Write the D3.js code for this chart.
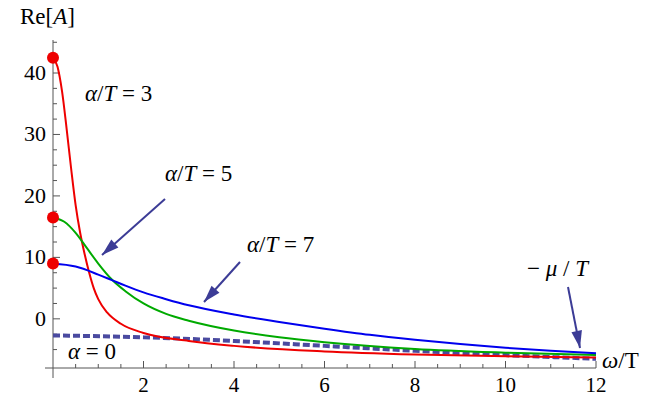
<!DOCTYPE html><html><head><meta charset="utf-8"><script src="https://cdn.jsdelivr.net/npm/d3@7"></script>
<style>body{margin:0;background:#fff}svg text{font-family:"Liberation Serif","DejaVu Serif",serif}</style></head><body><svg id="c" width="664" height="406"></svg>
<script>
const xTicks=[2,4,6,8,10,12];
const yTicks=[0,10,20,30,40];
const redX=[0,0.1,0.2,0.3,0.4,0.5,0.6,0.7,0.8,0.9,1,1.2,1.5,2,3,4,6,8,10,12];
const redY=[42.5,41,37,31,24.5,18.5,14,10.5,7.5,5,3.2,1,-0.8,-2.3,-3.6,-4.4,-5.3,-5.8,-6.1,-6.3];
const greenX=[0,0.25,0.5,0.75,1,1.3,1.6,2,2.5,3,4,5,6,8,10,12];
const greenY=[16.5,15.8,14,11.5,9,6.4,4.5,2.5,0.8,-0.3,-1.9,-3,-3.8,-4.9,-5.5,-5.9];
const blueX=[0,0.5,1,1.3,1.6,2,2.5,3,4,5,6,7,8,9,10,11,12];
const blueY=[9,8.5,7.2,6.3,5.4,4.3,3.2,2.2,0.7,-0.5,-1.6,-2.6,-3.4,-4.1,-4.7,-5.2,-5.6];
const zeroX=[0,2,4,6,8,10,12];
const zeroY=[-2.7,-3.0,-3.6,-4.4,-5.2,-5.9,-6.5];
const svg=d3.select("#c");
const F="Liberation Serif";
const x=d3.scaleLinear().domain([0,12]).range([53,596]);
const y=d3.scaleLinear().domain([-8,40]).range([368,73]);
const g=svg.append("g");
g.append("line").attr("x1",x(0)).attr("x2",x(0)).attr("y1",40).attr("y2",y(-8)+10).attr("stroke","#555");
g.append("line").attr("x1",x(0)-8).attr("x2",x(12)).attr("y1",y(-8)).attr("y2",y(-8)).attr("stroke","#555");
d3.range(0,12.01,0.5).forEach(v=>{if(v>0)g.append("line").attr("x1",x(v)).attr("x2",x(v)).attr("y1",y(-8)).attr("y2",y(-8)-(v%2==0?7:4)).attr("stroke","#555");});
d3.range(-5,45.1,2.5).forEach(v=>{g.append("line").attr("x1",x(0)).attr("x2",x(0)+(v%10==0?7:4)).attr("y1",y(v)).attr("y2",y(v)).attr("stroke","#555");});
xTicks.forEach(v=>g.append("text").attr("font-family",F).attr("x",x(v)).attr("y",392).attr("text-anchor","middle").attr("font-size",21).text(v));
yTicks.forEach(v=>g.append("text").attr("font-family",F).attr("x",46).attr("y",y(v)+7).attr("text-anchor","end").attr("font-size",22).text(v));
const line=d3.line().x(d=>x(d[0])).y(d=>y(d[1])).curve(d3.curveMonotoneX);
const zip=(a,b)=>a.map((v,i)=>[v,b[i]]);
g.append("path").attr("d",line(zip(zeroX,zeroY))).attr("fill","none").attr("stroke","#4a4aa0").attr("stroke-width",4).attr("stroke-dasharray","7,3");
g.append("path").attr("d",line(zip(redX,redY))).attr("fill","none").attr("stroke","#e00").attr("stroke-width",2);
g.append("path").attr("d",line(zip(greenX,greenY))).attr("fill","none").attr("stroke","#0a0").attr("stroke-width",2);
g.append("path").attr("d",line(zip(blueX,blueY))).attr("fill","none").attr("stroke","#00e").attr("stroke-width",2);
[redY[0],greenY[0],blueY[0]].forEach(v=>g.append("circle").attr("cx",x(0)).attr("cy",y(v)).attr("r",6).attr("fill","#e00"));
const lbl=(t,xx,yy,s)=>g.append("text").attr("font-family",F).attr("x",xx).attr("y",yy).attr("font-size",s||23).html(t);
lbl('<tspan font-style="italic">α</tspan>/<tspan font-style="italic">T</tspan> = 3',85,101);
lbl('<tspan font-style="italic">α</tspan>/<tspan font-style="italic">T</tspan> = 5',165,181);
lbl('<tspan font-style="italic">α</tspan>/<tspan font-style="italic">T</tspan> = 7',247,252);
lbl('− <tspan font-style="italic">μ</tspan> / <tspan font-style="italic">T</tspan>',527,276);
lbl('<tspan font-style="italic">α</tspan> = 0',68,359);
lbl('<tspan font-style="italic">ω</tspan>/T',602,368);
lbl('Re[<tspan font-style="italic">A</tspan>]',20,24);
function arrow(x1,y1,x2,y2){g.append("line").attr("x1",x1).attr("y1",y1).attr("x2",x2).attr("y2",y2).attr("stroke","#3c3c96").attr("stroke-width",2);
const a=Math.atan2(y2-y1,x2-x1),L=18,w=0.3;
g.append("path").attr("d",`M${x2},${y2}L${x2-L*Math.cos(a-w)},${y2-L*Math.sin(a-w)}L${x2-L*Math.cos(a+w)},${y2-L*Math.sin(a+w)}Z`).attr("fill","#3c3c96");}
arrow(165,199,102,255);
arrow(240,262,204,302);
arrow(568,287,580,348);
</script></body></html>
